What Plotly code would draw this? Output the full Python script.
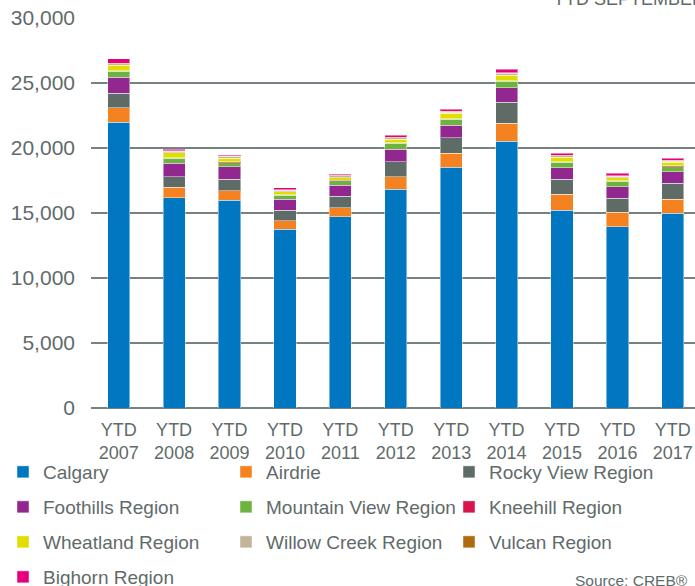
import plotly.graph_objects as go

YEARS = ["YTD<br>2007", "YTD<br>2008", "YTD<br>2009", "YTD<br>2010", "YTD<br>2011", "YTD<br>2012",
         "YTD<br>2013", "YTD<br>2014", "YTD<br>2015", "YTD<br>2016", "YTD<br>2017"]

CALGARY = [22000, 16170, 16000, 13740, 14710, 16840, 18510, 20530, 15230, 13940, 14970]
AIRDRIE = [1100, 800, 710, 660, 690, 950, 1080, 1360, 1200, 1110, 1080]
ROCKY_VIEW = [1130, 820, 900, 830, 900, 1150, 1200, 1620, 1160, 1080, 1230]
FOOTHILLS = [1230, 1030, 950, 820, 850, 950, 970, 1120, 890, 890, 890]
MOUNTAIN_VIEW = [430, 380, 320, 320, 330, 460, 440, 510, 410, 440, 390]
KNEEHILL = [60, 40, 50, 40, 40, 50, 60, 50, 50, 40, 60]
WHEATLAND = [400, 390, 300, 240, 190, 290, 400, 410, 340, 210, 270]
WILLOW_CREEK = [130, 120, 120, 100, 160, 100, 100, 150, 120, 130, 110]
VULCAN = [50, 40, 40, 40, 40, 40, 50, 50, 40, 40, 50]
BIGHORN = [320, 110, 60, 160, 90, 170, 190, 250, 160, 170, 150]

SERIES = [
    ("Calgary", CALGARY, "#0077c0", "legend"),
    ("Airdrie", AIRDRIE, "#f58220", "legend"),
    ("Rocky View Region", ROCKY_VIEW, "#5e6b66", "legend"),
    ("Foothills Region", FOOTHILLS, "#92278f", "legend2"),
    ("Mountain View Region", MOUNTAIN_VIEW, "#6db33f", "legend2"),
    ("Kneehill Region", KNEEHILL, "#d7144b", "legend2"),
    ("Wheatland Region", WHEATLAND, "#e1dd00", "legend3"),
    ("Willow Creek Region", WILLOW_CREEK, "#c4b59a", "legend3"),
    ("Vulcan Region", VULCAN, "#b06a10", "legend3"),
    ("Bighorn Region", BIGHORN, "#e6007e", "legend4"),
]

FONT = "Liberation Sans, Arial, sans-serif"
GREY = "#5f6b6a"
W, H = 695, 586
L, T, B = 91, 18, 178
PW = W - L
PH = H - T - B
BOTTOM = H - B  # pixel row of the zero line

fig = go.Figure()
for name, values, color, leg in SERIES:
    fig.add_trace(go.Bar(
        x=YEARS, y=values, name=name, legend=leg,
        marker=dict(color=color, line=dict(color="rgba(255,255,255,0.45)", width=1)),
        width=0.4,
    ))

# one legend per row so the rows can be spaced like the original
legend_style = dict(
    orientation="h", xanchor="left", yanchor="middle", xref="paper", yref="paper",
    traceorder="normal", x=(3 - L) / PW,
    font=dict(family=FONT, size=19, color=GREY), bgcolor="rgba(0,0,0,0)",
    entrywidth=178, entrywidthmode="pixels", itemwidth=30,
)
rows_y = [472, 507, 542, 577]
fig.update_layout(
    legend=dict(legend_style, y=(BOTTOM - rows_y[0]) / PH),
    legend2=dict(legend_style, y=(BOTTOM - rows_y[1]) / PH),
    legend3=dict(legend_style, y=(BOTTOM - rows_y[2]) / PH),
    legend4=dict(legend_style, y=(BOTTOM - rows_y[3]) / PH),
)

fig.add_annotation(
    text="YTD SEPTEMBER", xref="paper", yref="paper", x=(551 - L) / PW, y=1 + (T + 1) / PH,
    xanchor="left", yanchor="middle", showarrow=False,
    font=dict(family=FONT, size=18, color=GREY),
)
fig.add_annotation(
    text="Source: CREB®", xref="paper", yref="paper", x=(690 - L) / PW, y=(BOTTOM - 580) / PH,
    xanchor="right", yanchor="middle", showarrow=False,
    font=dict(family=FONT, size=15.5, color=GREY),
)

fig.update_xaxes(
    range=[-0.5, 10.4], showgrid=False, showline=False, ticks="",
    tickfont=dict(family=FONT, size=18, color=GREY), ticklabelstandoff=9,
)
fig.update_yaxes(
    range=[0, 30000], tickvals=[0, 5000, 10000, 15000, 20000, 25000, 30000],
    tickformat=",d", showgrid=True, gridcolor="#76827f", gridwidth=2,
    zeroline=True, zerolinecolor="#76827f", zerolinewidth=2,
    tickfont=dict(family=FONT, size=21, color=GREY), ticks="", ticklabelstandoff=15,
)

fig.update_layout(
    barmode="stack", width=W, height=H,
    margin=dict(l=L, r=0, t=T, b=B, autoexpand=False),
    plot_bgcolor="white", paper_bgcolor="white",
    font=dict(family=FONT, color=GREY),
)

fig.write_html("out.html", config={"displayModeBar": False},
               post_script="document.body.style.margin = '0';")
